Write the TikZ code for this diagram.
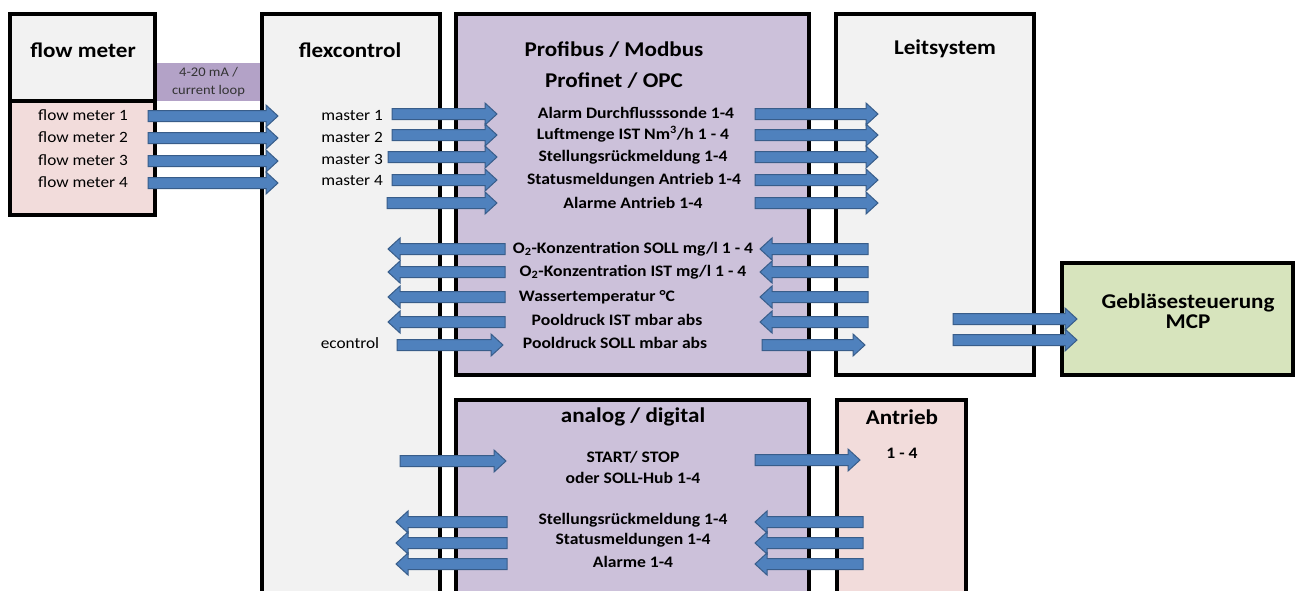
\documentclass[tikz,border=0pt]{standalone}
\usepackage{fontspec}
\setmainfont{Carlito}[FakeStretch=1.1]
\usetikzlibrary{calc}

\definecolor{boxgray}{HTML}{F2F2F2}
\definecolor{boxpink}{HTML}{F2DCDB}
\definecolor{boxpurple}{HTML}{CCC1DA}
\definecolor{looppurple}{HTML}{B3A2C7}
\definecolor{boxgreen}{HTML}{D7E4BD}
\definecolor{arrowfill}{HTML}{4F81BD}
\definecolor{arrowline}{HTML}{385D8A}

\tikzset{
  box/.style={draw=black, line width=3.5pt, anchor=north west, inner sep=0pt, outer sep=0pt},
  title/.style={font=\bfseries\fontsize{21}{21}\selectfont, inner sep=0pt},
  item/.style={font=\fontsize{15.7}{18}\selectfont, inner sep=0pt},
  bitem/.style={font=\bfseries\fontsize{16}{18}\selectfont, inner sep=0pt},
  flow/.style={draw=arrowline, fill=arrowfill, line width=1pt, line join=miter},
}

% horizontal block arrow from #1 to #2
\newcommand{\blockarrow}[2]{%
  \draw[flow] let \p1=(#1), \p2=(#2), \p3=($(#2)!12pt!(#1)$) in
    (\x1,\y1-5.5pt) -- (\x3,\y1-5.5pt) -- (\x3,\y1-11pt) -- (\x2,\y1)
    -- (\x3,\y1+11pt) -- (\x3,\y1+5.5pt) -- (\x1,\y1+5.5pt) -- cycle;}

\begin{document}
\begin{tikzpicture}[x=1pt, y=-1pt]
\useasboundingbox (0,0) rectangle (1295,590);

% 4-20 mA band
\node[fill=looppurple, anchor=north west, minimum width=107pt, minimum height=38pt, inner sep=0pt, outer sep=0pt] (loop) at (155,63) {};
\node[font=\fontsize{13.2}{18}\selectfont, text=black!80, align=center, inner sep=0pt] (looptext) at (loop.center) {4-20 mA /\\current loop};

% boxes
\node[box, fill=boxpink, minimum width=145pt, minimum height=114pt] (fmlist) at (10,101) {};
\node[box, fill=boxgray, minimum width=145pt, minimum height=87pt] (fmbox) at (10,14) {};
\node[box, fill=boxgray, minimum width=178pt, minimum height=600pt] (flex) at (262,14) {};
\node[box, fill=boxpurple, minimum width=353pt, minimum height=361pt] (bus) at (456,14) {};
\node[box, fill=boxgray, minimum width=198pt, minimum height=361pt] (leit) at (836,14) {};
\node[box, fill=boxgreen, minimum width=231pt, minimum height=112pt] (mcp) at (1062,263) {};
\node[box, fill=boxpurple, minimum width=353pt, minimum height=210pt] (io) at (456,400) {};
\node[box, fill=boxpink, minimum width=129pt, minimum height=210pt] (drive) at (837,400) {};

% titles
\node[title] (fmtitle) at (83,50) {flow meter};
\node[title] (flextitle) at (350,50) {flexcontrol};
\node[title, align=center, font=\bfseries\fontsize{21}{31}\selectfont] (bustitle) at (614,65) {Profibus / Modbus\\Profinet / OPC};
\node[title] (leittitle) at (945,49) {Leitsystem};
\node[title, align=center, font=\bfseries\fontsize{21}{20}\selectfont] (mcptitle) at (1188,311) {Gebläsesteuerung\\MCP};
\node[title] (iotitle) at (633,417) {analog / digital};
\node[title] (drivetitle) at (902,417) {Antrieb};
\node[bitem] (drivenum) at (902,453) {1 - 4};

% flow meter and master channels
\node[item] (fm1) at (83,115) {flow meter 1};
\node[item] (fm2) at (83,137) {flow meter 2};
\node[item] (fm3) at (83,160) {flow meter 3};
\node[item] (fm4) at (83,182) {flow meter 4};
\node[item] (ms1) at (352,115) {master 1};
\node[item] (ms2) at (352,137) {master 2};
\node[item] (ms3) at (352,159) {master 3};
\node[item] (ms4) at (352,181) {master 4};
\node[item] (ectl) at (350,343) {econtrol};

% bus signals
\node[bitem] (sig1) at (636,113) {Alarm Durchflusssonde 1-4};
\node[bitem] (sig2) at (633,134) {Luftmenge IST Nm\textsuperscript{3}/h 1 - 4};
\node[bitem] (sig3) at (633,157) {Stellungsrückmeldung 1-4};
\node[bitem] (sig4) at (634,180) {Statusmeldungen Antrieb 1-4};
\node[bitem] (sig5) at (633,203) {Alarme Antrieb 1-4};
\node[bitem] (sig6) at (633,249) {O\textsubscript{2}-Konzentration SOLL mg/l 1 - 4};
\node[bitem] (sig7) at (633,272) {O\textsubscript{2}-Konzentration IST mg/l 1 - 4};
\node[bitem] (sig8) at (597,297) {Wassertemperatur °C};
\node[bitem] (sig9) at (617,320) {Pooldruck IST mbar abs};
\node[bitem] (sig10) at (615,343) {Pooldruck SOLL mbar abs};

% analog / digital signals
\node[bitem] (io1) at (633,457) {START/ STOP};
\node[bitem] (io2) at (633,478) {oder SOLL-Hub 1-4};
\node[bitem] (io3) at (633,520) {Stellungsrückmeldung 1-4};
\node[bitem] (io4) at (633,540) {Statusmeldungen 1-4};
\node[bitem] (io5) at (633,562) {Alarme 1-4};

% flow meter -> flexcontrol
\foreach \row [count=\i] in {116,138,161,183} {
  \coordinate (fmout\i) at (148,\row);
  \coordinate (fcin\i) at (278,\row);
  \blockarrow{fmout\i}{fcin\i}
}

% flexcontrol -> bus -> Leitsystem
\foreach \row/\xs [count=\i] in {114/392,135/392,157/388,180/392,203/387} {
  \coordinate (fcout\i) at (\xs,\row);
  \coordinate (busin\i) at (497,\row);
  \coordinate (busout\i) at (755,\row);
  \coordinate (leitin\i) at (878,\row);
  \blockarrow{fcout\i}{busin\i}
  \blockarrow{busout\i}{leitin\i}
}

% Leitsystem -> bus -> flexcontrol
\foreach \row [count=\i] in {249,272,297,322} {
  \coordinate (leitout\i) at (868,\row);
  \coordinate (busback\i) at (760,\row);
  \coordinate (busleft\i) at (505,\row);
  \coordinate (fcback\i) at (388,\row);
  \blockarrow{leitout\i}{busback\i}
  \blockarrow{busleft\i}{fcback\i}
}

% econtrol set point
\coordinate (ecout) at (397,345);
\coordinate (ecin) at (503,345);
\coordinate (ecfwd) at (762,345);
\coordinate (ecleit) at (865,345);
\blockarrow{ecout}{ecin}
\blockarrow{ecfwd}{ecleit}

% Leitsystem -> MCP
\foreach \row [count=\i] in {319,340} {
  \coordinate (leitmcp\i) at (953,\row);
  \coordinate (mcpin\i) at (1077,\row);
  \blockarrow{leitmcp\i}{mcpin\i}
}

% start / stop to the drives
\coordinate (fcstart) at (400,461);
\coordinate (iostart) at (506,461);
\coordinate (iodrive) at (755,460);
\coordinate (drivein) at (860,460);
\blockarrow{fcstart}{iostart}
\blockarrow{iodrive}{drivein}

% drive feedback
\foreach \row [count=\i] in {522,543,564} {
  \coordinate (driveout\i) at (863,\row);
  \coordinate (ioback\i) at (755,\row);
  \coordinate (ioleft\i) at (507,\row);
  \coordinate (fcfb\i) at (396,\row);
  \blockarrow{driveout\i}{ioback\i}
  \blockarrow{ioleft\i}{fcfb\i}
}
\end{tikzpicture}
\end{document}
